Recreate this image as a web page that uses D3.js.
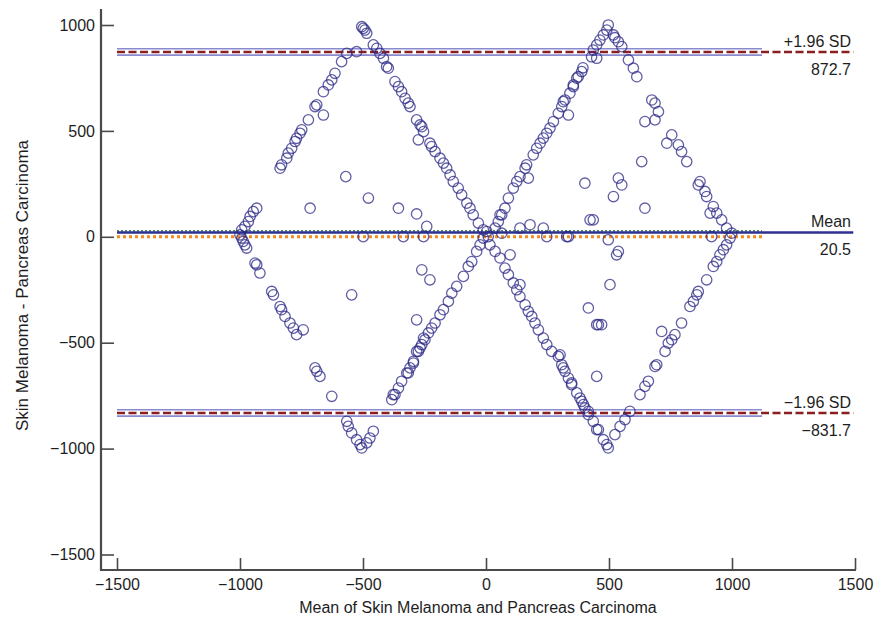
<!DOCTYPE html>
<html>
<head>
<meta charset="utf-8">
<script src="https://cdn.jsdelivr.net/npm/d3@7"></script>
<style>
  html, body { margin: 0; padding: 0; background: #ffffff; }
  svg { display: block; font-family: "Liberation Sans", Arial, sans-serif; }
</style>
</head>
<body>
<svg id="chart" width="876" height="623"></svg>
<script>
// ---- data ----
const meanVals = [
  -837,-831,-810,-804,-790,-776,-770,-756,-749,-722,-695,-688,-661,-661,-641,-627,-614,-587,-566,-526,-505,-499,-485,-492,
  -458,-444,-431,-417,-404,-397,-370,-356,-343,-329,-316,-309,-282,-275,-268,-261,-254,-228,-221,-207,-187,-173,-160,-146,-133,-113,-99,-78,-65,-52,-31,-11,9,16,37,57,77,91,111,125,138,159,172,186,199,213,233,247,267,294,301,308,314,321,335,348,348,369,382,389,396,402,416,416,436,450,457,477,491,497,
  524,545,565,585,626,646,660,687,694,714,728,741,755,768,795,829,843,857,863,897,924,938,951,965,978,992,999,
  978,958,938,924,911,897,890,870,863,816,795,782,755,735,701,687,674,687,646,613,599,579,552,538,497,491,477,463,450,436,429,450,518,524,
  3,37,50,57,77,91,111,125,138,159,165,172,192,206,220,233,247,260,274,294,308,321,335,341,355,375,389,369,355,314,394,
  -383,-377,-370,-356,-343,-322,-316,-309,-295,-295,-282,-275,-268,-261,-254,-248,-234,-221,-207,-187,-173,-153,-139,-119,-92,-72,-58,-38,-24,-11,
  -932,-946,-959,-966,-980,-993,-1000,-993,-987,-980,-973,-939,-932,-919,-871,-864,-837,-831,-817,-797,-783,-770,-743,-695,-688,-675,-627,-566,-560,-546,-526,-512,-505,-485,-472,-458,
  -570,-478,-715,-356,-282,-499,-336,-546,-282,-261,-241,-254,-228,64,179,233,138,64,98,138,402,423,436,416,450,457,450,328,247,538,552,518,633,646,497,538,531,504,335,917,470
];
const diffVals = [
  324,340,371,395,418,450,465,489,505,552,615,623,575,685,717,741,772,827,866,874,992,984,961,976,
  906,890,866,843,803,796,733,709,685,654,631,615,552,458,528,520,497,442,426,402,371,348,324,292,261,230,198,159,135,104,65,33,1,-38,-69,-100,-148,-179,-218,-250,-282,-321,-352,-376,-407,-439,-478,-509,-541,-565,-557,-604,-619,-635,-667,-690,-698,-737,-761,-777,-792,-808,-824,-840,-871,-910,-910,-958,-981,-997,
  -934,-895,-863,-824,-745,-706,-682,-612,-604,-447,-541,-502,-486,-462,-407,-329,-305,-274,-258,-203,-140,-117,-85,-61,-38,-6,17,
  41,80,112,143,112,190,214,261,245,355,402,434,481,442,591,631,646,552,544,756,796,835,898,921,1000,976,953,929,906,882,850,843,953,940,
  25,41,72,104,135,183,230,261,284,324,340,277,387,418,442,466,489,513,544,583,615,646,575,678,709,756,780,749,717,638,798,
  -769,-745,-745,-714,-682,-643,-643,-619,-596,-588,-541,-541,-525,-509,-478,-486,-454,-431,-407,-368,-344,-305,-266,-234,-187,-140,-117,-69,-38,-6,
  135,119,96,72,49,33,9,-6,-22,-38,-53,-124,-132,-171,-258,-274,-329,-344,-376,-407,-431,-462,-439,-619,-635,-659,-753,-871,-895,-926,-958,-981,-997,-973,-950,-918,
  284,183,135,135,108,1,1,-274,-392,-156,49,1,-203,104,57,41,41,17,-85,-226,253,80,80,-336,-415,-415,-659,1,1,277,245,190,355,135,-14,-69,-85,-226,1,1,-415
];
const meanDiff = 20.5;
const upperLoA = 872.7;
const lowerLoA = -831.7;
const equalityLine = 0;
const regressionLevel = 28;
const xTicks = [-1500, -1000, -500, 0, 500, 1000, 1500];
const yTicks = [-1500, -1000, -500, 0, 500, 1000];
const xTitle = "Mean of Skin Melanoma and Pancreas Carcinoma";
const yTitle = "Skin Melanoma - Pancreas Carcinoma";
const limitLabels = [
  { name: "+1.96 SD", value: upperLoA, text: "872.7" },
  { name: "Mean", value: meanDiff, text: "20.5" },
  { name: "\u22121.96 SD", value: lowerLoA, text: "\u2212831.7" }
];

// ---- layout ----
const svg = d3.select("#chart");
const axisLeftX = 101, axisBottomY = 570;
const x = d3.scaleLinear().domain([-1500, 1500]).range([117, 855]);
const y = d3.scaleLinear().domain([-1500, 1000]).range([554.5, 25]);
const bandEnd = 1122, lineEnd = 1493;
const bandHalf = 15;

// axes
const fmt = d => d < 0 ? "\u2212" + Math.abs(d) : String(d);
const gx = svg.append("g").attr("transform", `translate(0,${axisBottomY})`)
  .call(d3.axisBottom(x).tickValues(xTicks).tickFormat(fmt).tickSizeInner(-12).tickSizeOuter(0).tickPadding(9));
gx.select(".domain").remove();
const gy = svg.append("g").attr("transform", `translate(${axisLeftX},0)`)
  .call(d3.axisLeft(y).tickValues(yTicks).tickFormat(fmt).tickSizeInner(-13).tickSizeOuter(0).tickPadding(6));
gy.select(".domain").remove();
[gx, gy].forEach(g => {
  g.selectAll("line").attr("stroke", "#4a4a4a").attr("stroke-width", 1.6);
  g.selectAll("text").attr("font-size", 16).attr("fill", "#1e1e1e").attr("font-family", "'Liberation Sans', Arial, sans-serif");
});
svg.append("line").attr("x1", axisLeftX).attr("x2", axisLeftX).attr("y1", 9).attr("y2", axisBottomY + 1)
  .attr("stroke", "#4a4a4a").attr("stroke-width", 2.2);
svg.append("line").attr("x1", axisLeftX - 1).attr("x2", 856).attr("y1", axisBottomY).attr("y2", axisBottomY)
  .attr("stroke", "#4a4a4a").attr("stroke-width", 2.2);

// titles
svg.append("text").attr("x", 478).attr("y", 613).attr("text-anchor", "middle")
  .attr("font-size", 16).attr("fill", "#1e1e1e").text(xTitle);
svg.append("text").attr("transform", `translate(28,${y(-230)}) rotate(-90)`).attr("text-anchor", "middle")
  .attr("font-size", 17).attr("fill", "#1e1e1e").text(yTitle);

// reference lines
const lines = svg.append("g");
[upperLoA, lowerLoA].forEach(v => {
  [v + bandHalf, v - bandHalf].forEach(b => {
    lines.append("line").attr("x1", x(-1500)).attr("x2", x(bandEnd)).attr("y1", y(b)).attr("y2", y(b))
      .attr("stroke", "#8a8ad0").attr("stroke-width", 1.6);
  });
  lines.append("line").attr("x1", x(-1500)).attr("x2", x(lineEnd)).attr("y1", y(v)).attr("y2", y(v))
    .attr("stroke", "#8b1f1f").attr("stroke-width", 2.6).attr("stroke-dasharray", "8,3.5");
});
lines.append("line").attr("x1", x(-1500)).attr("x2", x(bandEnd)).attr("y1", y(equalityLine)).attr("y2", y(equalityLine))
  .attr("stroke", "#f28c1e").attr("stroke-width", 3).attr("stroke-dasharray", "3,3");
lines.append("line").attr("x1", x(-1500)).attr("x2", x(bandEnd)).attr("y1", y(regressionLevel)).attr("y2", y(regressionLevel))
  .attr("stroke", "#4f8a62").attr("stroke-width", 1.8).attr("stroke-dasharray", "2,2");
lines.append("line").attr("x1", x(-1500)).attr("x2", x(lineEnd)).attr("y1", y(meanDiff)).attr("y2", y(meanDiff))
  .attr("stroke", "#2e3190").attr("stroke-width", 2.6);

// points
const pts = meanVals.map((m, i) => ({ m, d: diffVals[i] }));
svg.append("g").selectAll("circle").data(pts).join("circle")
  .attr("cx", p => x(p.m)).attr("cy", p => y(p.d)).attr("r", 5.2)
  .attr("fill", "none").attr("stroke", "#2b2886").attr("stroke-opacity", 0.75).attr("stroke-width", 1.3);

// labels on the right
const lab = svg.append("g").attr("font-size", 16).attr("fill", "#1e1e1e").attr("text-anchor", "end");
limitLabels.forEach(l => {
  lab.append("text").attr("x", 851).attr("y", y(l.value) - 5).text(l.name);
  lab.append("text").attr("x", 851).attr("y", y(l.value) + 23).text(l.text);
});
</script>
</body>
</html>
